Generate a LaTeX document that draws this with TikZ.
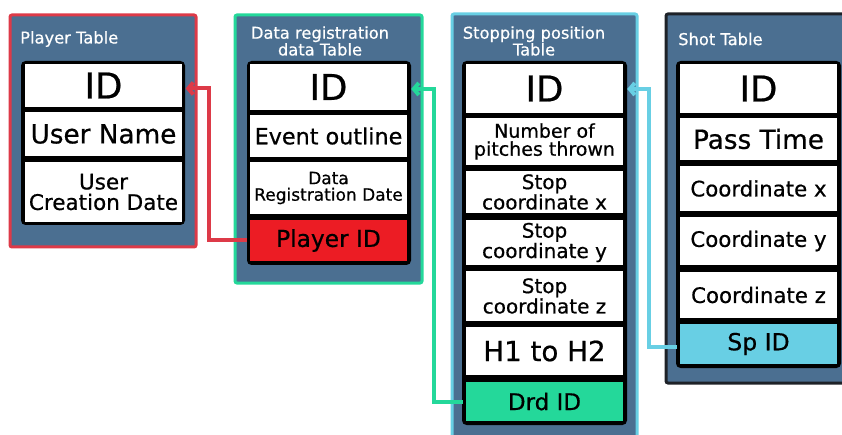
\documentclass[tikz,border=0pt]{standalone}
\usepackage{fontspec}
\setmainfont{DejaVu Sans}[FakeBold=0.6]
\usetikzlibrary{arrows.meta}
\definecolor{tblblue}{HTML}{4B6F91}
\definecolor{redB}{HTML}{DD3A48}
\definecolor{redC}{HTML}{EC1C24}
\definecolor{grnB}{HTML}{24D89A}
\definecolor{lblB}{HTML}{68CFE4}
\definecolor{darkB}{HTML}{1E2228}
\newcommand\rn[7]{\node[#2,minimum width={(#5)-(#3)},minimum height={(#6)-(#4)}] (#1) at ({((#3)+(#5))/2},{((#4)+(#6))/2}) {#7};}
\newcommand\fs[2]{\fontsize{#1}{#2}\selectfont}
\tikzset{
  tbl/.style={draw, fill=tblblue, line width=3pt, rounded corners=2pt, inner sep=0pt},
  frame/.style={fill=black, rounded corners=4.5pt, inner sep=0pt},
  cell/.style={fill=white, inner sep=0pt, align=center, text=black},
  ttl/.style={text=white, inner sep=0pt, align=center, font=\fs{16.3}{13.8}},
  link/.style={line width=4pt, -{Straight Barb[length=5pt,width=12pt]}, shorten <=3pt, shorten >=3.5pt},
}
\begin{document}
\begin{tikzpicture}[x=1pt,y=-1pt]
\useasboundingbox (0,0) rectangle (842,435);
\clip (0,0) rectangle (842,435);
% Player table
\rn{ptbl}{tbl,draw=redB}{10}{15}{196}{247}{}
\node[ttl, anchor=west] (pttl) at (20,39) {Player Table};
\rn{pfr}{frame}{21}{61}{185}{225}{}
\rn{p-id}{cell,font=\fs{35.5}{35}}{25}{64}{182}{107}{ID}
\rn{p-un}{cell,font=\fs{26.3}{26}}{25}{112}{182}{156}{User Name}
\rn{p-ucd}{cell,font=\fs{21.5}{20.5}}{25}{162}{182}{222}{User\\Creation Date}
% Data registration table
\rn{dtbl}{tbl,draw=grnB}{235}{15}{422}{283}{}
\node[ttl] (dttl) at (320,41) {Data registration\\data Table};
\rn{dfr}{frame}{247}{61}{411}{265}{}
\rn{d-id}{cell,font=\fs{35.5}{35}}{250}{64}{407}{110}{ID}
\rn{d-eo}{cell,font=\fs{22.3}{22}}{250}{115}{407}{157}{Event outline}
\rn{d-drd}{cell,font=\fs{17}{16.5}}{250}{162}{407}{214}{Data\\Registration Date}
\rn{d-pid}{cell,fill=redC,font=\fs{23.3}{23}}{250}{220}{407}{261}{Player ID}
% Stopping position table
\rn{stbl}{tbl,draw=lblB}{452}{14}{637}{450}{}
\node[ttl] (sttl) at (534,41) {Stopping position\\Table};
\rn{sfr}{frame}{462}{61}{627}{425}{}
\rn{s-id}{cell,font=\fs{35.5}{35}}{466}{64}{623}{113}{ID}
\rn{s-np}{cell,font=\fs{19}{18}}{466}{118}{623}{165}{Number of\\pitches thrown}
\rn{s-x}{cell,font=\fs{20}{18}}{466}{171}{623}{213}{Stop\\coordinate x}
\rn{s-y}{cell,font=\fs{20}{18}}{466}{220}{623}{265}{Stop\\coordinate y}
\rn{s-z}{cell,font=\fs{20}{18}}{466}{271}{623}{321}{Stop\\coordinate z}
\rn{s-h}{cell,font=\fs{27.7}{27}}{466}{327}{623}{375}{H1 to H2}
\rn{s-drd}{cell,fill=grnB,font=\fs{23}{22}}{466}{382}{623}{421}{Drd ID}
% Shot table
\rn{ttbl}{tbl,draw=darkB}{666}{14}{860}{383}{}
\node[ttl, anchor=west] (tttl) at (678,39) {Shot Table};
\rn{tfr}{frame}{676}{61}{841}{368}{}
\rn{t-id}{cell,font=\fs{35.5}{35}}{680}{64}{837}{113}{ID}
\rn{t-pt}{cell,font=\fs{26.3}{25}}{680}{118}{837}{160}{Pass Time}
\rn{t-x}{cell,font=\fs{21.3}{19}}{680}{166}{837}{211}{Coordinate x}
\rn{t-y}{cell,font=\fs{21.3}{19}}{680}{217}{837}{265}{Coordinate y}
\rn{t-z}{cell,font=\fs{21.3}{19}}{680}{272}{837}{318}{Coordinate z}
\rn{t-sp}{cell,fill=lblB,font=\fs{23.5}{23}}{680}{324}{837}{364}{Sp ID}
% links
\draw[link, redB] (d-pid.west) -- ++(-41,0) |- ([yshift=-3pt]p-id.east);
\draw[link, grnB, shorten >=4pt] (s-drd.west) -- ++(-32,0) |- ([yshift=-2pt]d-id.east);
\draw[link, lblB, shorten >=4pt] ([yshift=-3pt]t-sp.west) -- ++(-31,0) |- ([yshift=-0.5pt]s-id.east);
\end{tikzpicture}
\end{document}
